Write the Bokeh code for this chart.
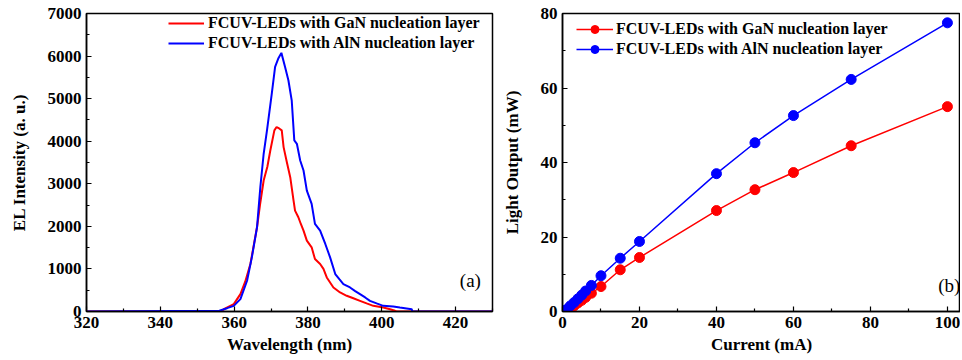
from bokeh.plotting import figure
from bokeh.layouts import row
from bokeh.models import FixedTicker, Legend, LegendItem, Label
from bokeh.embed import file_html
from bokeh.resources import INLINE

# ---- Panel (a): EL spectra ----
wl_gan = [320, 356.5, 357.2, 359.9, 361.7, 363.0, 364.4, 366.2, 367.0, 368.0, 369.0, 369.8,
          370.9, 371.5, 372.2, 372.9, 373.4, 374.3, 375.2, 376.1, 376.5, 377.4, 378.1, 378.8,
          379.7, 381.0, 381.9, 383.3, 384.2, 385.1, 386.9, 388.7, 390.5, 392.3, 394.1, 395.9,
          397.7, 400.4, 402.0, 403.6, 404.0, 430]
int_gan = [0, 0, 55, 173, 408, 700, 1115, 1978, 2500, 3077, 3400, 3783,
           4254, 4333, 4300, 4254, 3862, 3500, 3155, 2606, 2370, 2214, 2050, 1900,
           1664, 1507, 1232, 1115, 1000, 800, 565, 447, 369, 310, 251, 190,
           133, 94, 60, 16, 0, 0]

wl_aln = [320, 356.0, 358.1, 359.9, 361.7, 363.5, 364.8, 366.2, 367.1, 368.0, 368.9, 370.2,
          371.1, 372.0, 372.8, 373.8, 374.7, 375.6, 376.3, 377.0, 377.9, 378.8, 379.7, 381.0,
          381.9, 383.3, 384.7, 386.0, 387.4, 388.5, 389.6, 391.4, 392.8, 394.1, 395.5, 396.8,
          398.6, 400.4, 403.1, 404.9, 408.1, 408.3, 430]
int_aln = [0, 16, 78, 133, 290, 722, 1272, 1978, 2920, 3705, 4254, 5118,
           5746, 5950, 6075, 5746, 5432, 4961, 4019, 3940, 3548, 3312, 2841, 2527,
           2057, 1900, 1586, 1272, 879, 760, 644, 565, 480, 408, 330, 251,
           190, 133, 118, 94, 55, 0, 0]

# ---- Panel (b): L-I ----
current = [1, 2, 3, 4, 5, 6, 7.5, 10, 15, 20, 40, 50, 60, 75, 100]
lop_gan = [0.3, 0.9, 1.5, 2.3, 3.0, 3.8, 4.9, 6.7, 11.2, 14.5, 27.1, 32.7, 37.3, 44.5, 55.0]
lop_aln = [0.5, 1.5, 2.4, 3.4, 4.4, 5.5, 7.0, 9.6, 14.3, 18.8, 37.0, 45.3, 52.6, 62.3, 77.5]

label_gan = "FCUV-LEDs with GaN nucleation layer"
label_aln = "FCUV-LEDs with AlN nucleation layer"

RED = "#FF0000"
BLUE = "#0000FF"
FONT = "Liberation Serif"


def style(p, xticks, xminor, yticks, yminor, xlabel, ylabel):
    p.xgrid.visible = False
    p.ygrid.visible = False
    p.outline_line_color = "black"
    p.outline_line_width = 1.5
    p.background_fill_color = "white"
    p.border_fill_color = "white"
    p.xaxis.ticker = FixedTicker(ticks=xticks, minor_ticks=xminor)
    p.yaxis.ticker = FixedTicker(ticks=yticks, minor_ticks=yminor)
    p.xaxis.axis_label = xlabel
    p.yaxis.axis_label = ylabel
    for ax in (p.xaxis, p.yaxis):
        ax.axis_line_color = "black"
        ax.axis_line_width = 1.5
        ax.major_tick_in = 5
        ax.major_tick_out = 0
        ax.minor_tick_in = 3
        ax.minor_tick_out = 0
        ax.major_tick_line_color = "black"
        ax.minor_tick_line_color = "black"
        ax.major_tick_line_width = 1.2
        ax.minor_tick_line_width = 1.2
        ax.major_label_text_font = FONT
        ax.major_label_text_font_style = "bold"
        ax.major_label_text_font_size = "17px"
        ax.major_label_text_color = "black"
        ax.axis_label_text_font = FONT
        ax.axis_label_text_font_style = "bold"
        ax.axis_label_text_font_size = "17px"
        ax.axis_label_text_color = "black"
        ax.major_label_standoff = 5
    p.xaxis.axis_label_standoff = 4
    p.yaxis.axis_label_standoff = 16


p1 = figure(width=494, height=360, x_range=(320, 430), y_range=(0, 7000),
            output_backend="svg", toolbar_location=None,
            min_border_left=86, min_border_right=2, min_border_top=13, min_border_bottom=49)
style(p1, list(range(320, 431, 20)), list(range(330, 431, 20)),
      list(range(0, 7001, 1000)), list(range(500, 7000, 1000)),
      "Wavelength (nm)", "EL Intensity (a. u.)")

r_gan = p1.line(wl_gan, int_gan, line_color=RED, line_width=2)
r_aln = p1.line(wl_aln, int_aln, line_color=BLUE, line_width=2)

leg1 = Legend(items=[LegendItem(label=label_gan, renderers=[r_gan]),
                     LegendItem(label=label_aln, renderers=[r_aln])],
              location=(82, 258), padding=0, margin=0, spacing=0,
              border_line_alpha=0, background_fill_alpha=0,
              glyph_width=36, glyph_height=20, label_height=20, label_standoff=4,
              label_text_font=FONT, label_text_font_style="bold",
              label_text_font_size="16px", label_text_color="black")
p1.add_layout(leg1)
p1.add_layout(Label(x=424, y=728, text="(a)", text_font=FONT, text_font_size="19px",
                    text_align="center", text_baseline="middle", text_color="black"))

p2 = figure(width=466, height=360, x_range=(0, 103.4), y_range=(0, 80),
            output_backend="svg", toolbar_location=None,
            min_border_left=68, min_border_right=0, min_border_top=13, min_border_bottom=49)
style(p2, list(range(0, 101, 20)), list(range(10, 101, 20)),
      list(range(0, 81, 20)), list(range(10, 81, 20)),
      "Current (mA)", "Light Output (mW)")

l_gan = p2.line(current, lop_gan, line_color=RED, line_width=1.5)
s_gan = p2.scatter(current, lop_gan, size=10, fill_color=RED, line_color=RED)
l_aln = p2.line(current, lop_aln, line_color=BLUE, line_width=1.5)
s_aln = p2.scatter(current, lop_aln, size=10, fill_color=BLUE, line_color=BLUE)

leg2 = Legend(items=[LegendItem(label=label_gan, renderers=[l_gan, s_gan]),
                     LegendItem(label=label_aln, renderers=[l_aln, s_aln])],
              location=(14, 252), padding=0, margin=0, spacing=0,
              border_line_alpha=0, background_fill_alpha=0,
              glyph_width=37, glyph_height=20, label_height=20, label_standoff=3,
              label_text_font=FONT, label_text_font_style="bold",
              label_text_font_size="16px", label_text_color="black")
p2.add_layout(leg2)
p2.add_layout(Label(x=100.5, y=7.0, text="(b)", text_font=FONT, text_font_size="19px",
                    text_align="center", text_baseline="middle", text_color="black"))

layout = row(p1, p2)
open("out.html", "w").write(file_html(layout, INLINE))
